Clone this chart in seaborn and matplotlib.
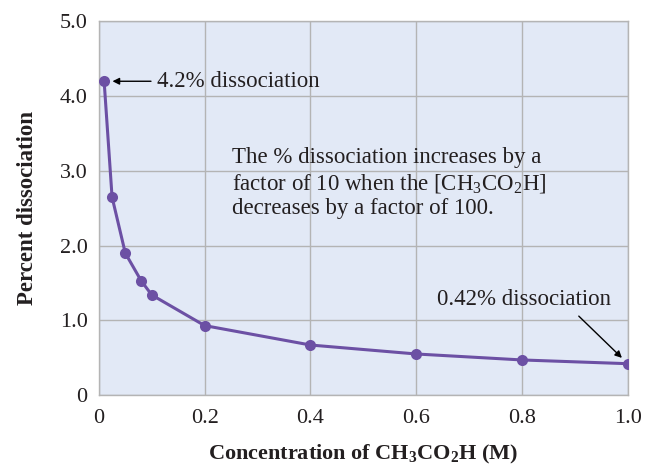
import matplotlib
matplotlib.use('Agg')
import matplotlib.pyplot as plt
import seaborn as sns
import pandas as pd

# values
concentration = [0.01, 0.025, 0.05, 0.08, 0.1, 0.2, 0.4, 0.6, 0.8, 1.0]
percent_dissociation = [4.2, 2.65, 1.9, 1.53, 1.34, 0.93, 0.67, 0.55, 0.47, 0.42]
x_ticks = [0, 0.2, 0.4, 0.6, 0.8, 1.0]
x_tick_labels = ['0', '0.2', '0.4', '0.6', '0.8', '1.0']
y_ticks = [0, 1, 2, 3, 4, 5]
y_tick_labels = ['0', '1.0', '2.0', '3.0', '4.0', '5.0']

df = pd.DataFrame({'conc': concentration, 'pct': percent_dissociation})

sns.set_style('white')
plt.rcParams['font.family'] = ['Liberation Serif', 'DejaVu Serif']
plt.rcParams['mathtext.fontset'] = 'custom'
plt.rcParams['mathtext.rm'] = 'Liberation Serif'
plt.rcParams['mathtext.bf'] = 'Liberation Serif:bold'

purple = '#6c50a4'
ink = '#231f20'

fig = plt.figure(figsize=(6.46, 4.67), dpi=100)
ax = fig.add_axes([0.153, 0.154, 0.819, 0.800])
ax.set_facecolor('#e2e9f6')

sns.lineplot(data=df, x='conc', y='pct', ax=ax, color=purple, linewidth=2.2,
             marker='o', markersize=8, markeredgewidth=0, zorder=3)

ax.set_xlim(0, 1.0)
ax.set_ylim(0, 5.0)
ax.set_xticks(x_ticks)
ax.set_xticklabels(x_tick_labels, fontsize=16)
ax.set_yticks(y_ticks)
ax.set_yticklabels(y_tick_labels, fontsize=16)
ax.tick_params(axis='y', length=0, pad=8, colors=ink)
ax.tick_params(axis='x', length=0, pad=10, colors=ink)
ax.grid(True, color='#b4b4b4', linewidth=1)
ax.set_axisbelow(True)
for s in ax.spines.values():
    s.set_color('#b4b4b4')
    s.set_linewidth(1)

ax.set_xlabel(r'Concentration of $\mathbf{CH_3CO_2H}$ (M)', fontsize=16,
              fontweight='bold', labelpad=11, color=ink)
ax.set_ylabel('Percent dissociation', fontsize=16.5, fontweight='bold',
              labelpad=16, color=ink)

# annotations
ax.annotate('4.2% dissociation', xy=(concentration[0], percent_dissociation[0]),
            xytext=(0.11, percent_dissociation[0]), fontsize=16.5, va='center',
            color=ink,
            arrowprops=dict(arrowstyle='-|>', color='black', lw=1,
                            shrinkA=2, shrinkB=6, mutation_scale=10))
ax.annotate('0.42% dissociation', xy=(concentration[-1], percent_dissociation[-1]),
            xytext=(0.803, 1.28), fontsize=16.5, ha='center', va='center',
            color=ink,
            arrowprops=dict(arrowstyle='-|>', color='black', lw=1,
                            shrinkA=3, shrinkB=6, mutation_scale=10,
                            relpos=(0.78, 0.0)))
ax.text(0.252, 2.84,
        'The % dissociation increases by a\n'
        r'factor of 10 when the [$\mathrm{CH_3CO_2H}$]' + '\n'
        'decreases by a factor of 100.',
        fontsize=16.5, color=ink, va='center', ha='left', linespacing=1.2)

fig.savefig('out.png', dpi=100)
